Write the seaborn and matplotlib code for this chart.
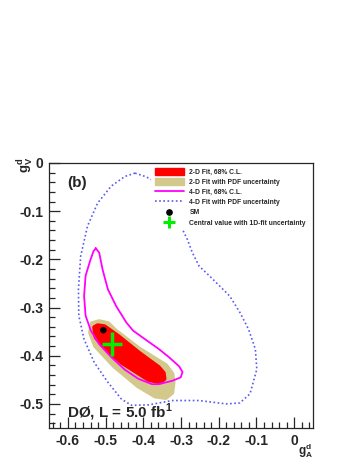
import numpy as np
import seaborn as sns
import matplotlib
matplotlib.use('Agg')
import matplotlib.pyplot as plt
from matplotlib.patches import Patch
from matplotlib.lines import Line2D
from matplotlib.ticker import MultipleLocator

# 4-D fit with PDF uncertainty (dotted blue contour)
pdf4_x = [-0.422, -0.449, -0.485, -0.521, -0.548, -0.566, -0.572, -0.571, -0.557, -0.530,
          -0.494, -0.458, -0.431, -0.386, -0.323, -0.252, -0.180, -0.144, -0.117, -0.099,
          -0.103, -0.121, -0.144, -0.171, -0.198, -0.225, -0.252, -0.270, -0.283, -0.296,
          -0.314, -0.341, -0.368, -0.395]
pdf4_y = [-0.021, -0.028, -0.048, -0.083, -0.131, -0.193, -0.262, -0.317, -0.366, -0.414,
          -0.455, -0.490, -0.503, -0.502, -0.493, -0.493, -0.500, -0.498, -0.479, -0.428,
          -0.386, -0.345, -0.310, -0.276, -0.255, -0.234, -0.214, -0.186, -0.159, -0.138,
          -0.103, -0.062, -0.038, -0.028]

# 4-D fit, 68% C.L. (magenta contour)
fit4_x = [-0.526, -0.517, -0.508, -0.494, -0.472, -0.445, -0.427, -0.395, -0.359, -0.332,
          -0.305, -0.296, -0.301, -0.323, -0.359, -0.377, -0.413, -0.449, -0.485, -0.517,
          -0.539, -0.553, -0.557, -0.553, -0.541, -0.532]
fit4_y = [-0.177, -0.186, -0.221, -0.262, -0.297, -0.331, -0.348, -0.366, -0.386, -0.403,
          -0.422, -0.434, -0.445, -0.452, -0.459, -0.459, -0.448, -0.429, -0.403, -0.376,
          -0.348, -0.317, -0.276, -0.234, -0.203, -0.183]

# 2-D fit with PDF uncertainty (khaki band)
pdf2_x = [-0.535, -0.517, -0.494, -0.476, -0.413, -0.341, -0.325, -0.322, -0.325, -0.341,
          -0.368, -0.413, -0.476, -0.526, -0.539]
pdf2_y = [-0.334, -0.330, -0.334, -0.348, -0.386, -0.421, -0.438, -0.455, -0.476, -0.486,
          -0.483, -0.462, -0.421, -0.379, -0.352]

# 2-D fit, 68% C.L. (red band)
fit2_x = [-0.530, -0.521, -0.503, -0.467, -0.413, -0.359, -0.346, -0.344, -0.355, -0.386,
          -0.458, -0.503, -0.526]
fit2_y = [-0.341, -0.337, -0.339, -0.359, -0.393, -0.424, -0.436, -0.448, -0.455, -0.450,
          -0.414, -0.383, -0.362]

sm_x, sm_y = [-0.506], [-0.347]
cv_x, cv_y = [-0.483], [-0.376]
cv_xerr, cv_yerr = [0.027], [0.025]

labels = ["2-D Fit, 68% C.L.", "2-D Fit with PDF uncertainty", "4-D Fit, 68% C.L.",
          "4-D Fit with PDF uncertainty", "SM", "Central value with 1D-fit uncertainty"]

sns.set_style("ticks")
plt.rcParams['font.family'] = ['Liberation Sans', 'DejaVu Sans']
plt.rcParams['font.weight'] = 'bold'
plt.rcParams['mathtext.fontset'] = 'custom'
plt.rcParams['mathtext.bf'] = 'Liberation Sans:bold'
plt.rcParams['mathtext.rm'] = 'Liberation Sans:bold'

c_red, c_khaki, c_mag, c_blue, c_green = '#ff0000', '#d3c98c', '#ff00ff', '#5a5aee', '#00ee00'

fig = plt.figure(figsize=(3.57, 4.62), dpi=100)
ax = fig.add_axes([0.1373, 0.0736, 0.7395, 0.5736])

ax.fill(pdf2_x, pdf2_y, color=c_khaki, lw=4, joinstyle='round', zorder=1)
ax.fill(fit2_x, fit2_y, color=c_red, lw=3, joinstyle='round', zorder=2)
sns.lineplot(x=fit4_x + fit4_x[:1], y=fit4_y + fit4_y[:1], sort=False, estimator=None,
             color=c_mag, lw=1.3, ax=ax, zorder=3)
sns.lineplot(x=pdf4_x + pdf4_x[:1], y=pdf4_y + pdf4_y[:1], sort=False, estimator=None,
             color=c_blue, lw=1.2, ls=(0, (1, 1.5)), ax=ax, zorder=3)
ax.errorbar(cv_x, cv_y, xerr=cv_xerr, yerr=cv_yerr, fmt='none', ecolor=c_green,
            elinewidth=2.5, capsize=0, zorder=5)
sns.scatterplot(x=sm_x, y=sm_y, color='black', s=22, edgecolor='none', ax=ax, zorder=6)

ax.set_xlim(-0.65, 0.05)
ax.set_ylim(-0.55, 0.0)
ax.xaxis.set_major_locator(MultipleLocator(0.1))
ax.xaxis.set_minor_locator(MultipleLocator(0.02))
ax.yaxis.set_major_locator(MultipleLocator(0.1))
ax.yaxis.set_minor_locator(MultipleLocator(0.02))
ax.tick_params(which='both', direction='in', top=False, right=False, width=0.9,
               labelsize=10, pad=4)
ax.tick_params(which='major', length=8)
ax.tick_params(which='minor', length=4)
ax.set_xticklabels([f"{t:g}" if abs(t) > 1e-9 else "0" for t in ax.get_xticks()], fontweight='bold')
ax.set_yticklabels([f"{t:g}" if abs(t) > 1e-9 else "0" for t in ax.get_yticks()], fontweight='bold')
for s in ax.spines.values():
    s.set_linewidth(0.9)

ax.text(-0.087, 1.025, r"$\mathbf{g^{d}_{V}}$", transform=ax.transAxes, rotation=90,
        ha='center', va='top', fontsize=9.5)
ax.text(1.0, -0.05, r"$\mathbf{g^{d}_{A}}$", transform=ax.transAxes,
        ha='right', va='top', fontsize=8.5)
ax.text(0.068, 0.925, "(b)", transform=ax.transAxes, ha='left', va='center',
        fontsize=11, fontweight='bold')
ax.text(0.068, 0.06, r"DØ, L = 5.0 fb$^{1}$", transform=ax.transAxes, ha='left',
        va='center', fontsize=11, fontweight='bold')

handles = [Patch(color=c_red), Patch(color=c_khaki),
           Line2D([], [], color=c_mag, lw=1.3),
           Line2D([], [], color=c_blue, lw=1.2, ls=(0, (1, 1.5))),
           Line2D([], [], ls='none', marker='o', color='black', ms=3.8),
           Line2D([], [], ls='none', marker='+', color=c_green, ms=8, mew=2.2)]
leg = ax.legend(handles, labels, loc='upper left', bbox_to_anchor=(0.388, 0.994),
                prop={'size': 4.9, 'weight': 'bold'}, frameon=True, framealpha=1,
                facecolor='white', edgecolor='none', fancybox=False,
                handlelength=4.3, handleheight=1.2, handletextpad=0.78,
                labelspacing=0.35, borderpad=0.5, borderaxespad=0.0)
leg.set_zorder(10)

fig.savefig("out.png", dpi=100)
